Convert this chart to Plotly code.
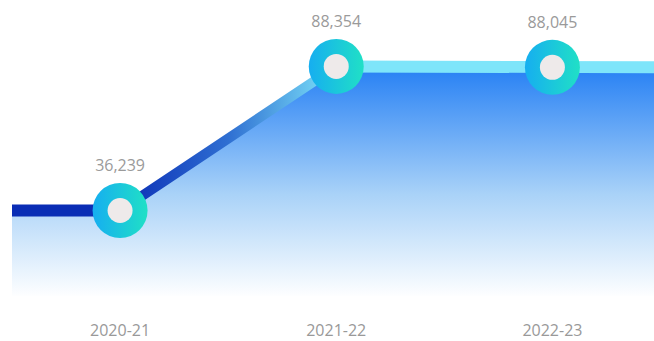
import plotly.graph_objects as go

# Fiscal years and their values
years = ["2020-21", "2021-22", "2022-23"]
values = [36239, 88354, 88045]

xs = list(range(len(years)))
# flat run-out half a category past the first and last points
x_ext = [xs[0] - 0.5] + xs + [xs[-1] + 0.5]
y_ext = [values[0]] + values + [values[-1]]

Y0, Y1 = 5300, 112400
PLOT_H = 298
LINE_PX = 12
half = LINE_PX / 2 * (Y1 - Y0) / PLOT_H

fig = go.Figure()

# area under the line, fading to white at the bottom
fig.add_trace(go.Scatter(
    x=x_ext, y=y_ext, mode="lines", line=dict(width=0),
    fill="tozeroy",
    fillgradient=dict(type="vertical", start=Y0, stop=values[1],
                      colorscale=[[0, "rgba(255,255,255,1)"], [0.45, "#a9d2f8"], [1, "#2680f4"]]),
    hoverinfo="skip", showlegend=False,
))

# thick line drawn as a band so it can carry a horizontal colour ramp
fig.add_trace(go.Scatter(
    x=x_ext, y=[v - half for v in y_ext], mode="lines", line=dict(width=0),
    hoverinfo="skip", showlegend=False,
))
fig.add_trace(go.Scatter(
    x=x_ext, y=[v + half for v in y_ext], mode="lines", line=dict(width=0),
    fill="tonexty",
    fillgradient=dict(type="horizontal", start=xs[0], stop=xs[1],
                      colorscale=[[0, "#0a2db5"], [0.5, "#2f6fd2"], [1, "#7ee5fa"]]),
    hoverinfo="skip", showlegend=False,
))

# outer ring markers with value labels (blue on the left, teal on the right)
fig.add_trace(go.Scatter(
    x=xs, y=values, mode="markers+text",
    text=[f"{v:,}" for v in values], textposition="top center",
    textfont=dict(family="Open Sans", size=16, color="#9a9a9a"),
    marker=dict(size=55, color="#16aef0", line=dict(width=0),
                gradient=dict(type="horizontal", color="#20e0c6")),
    cliponaxis=False, hoverinfo="skip", showlegend=False,
))
# inner light dot
fig.add_trace(go.Scatter(
    x=xs, y=values, mode="markers",
    marker=dict(size=25, color="#eeeaea", line=dict(width=0)),
    cliponaxis=False, hoverinfo="skip", showlegend=False,
))

fig.update_layout(
    width=654, height=341,
    margin=dict(l=12, r=0, t=0, b=341 - PLOT_H),
    paper_bgcolor="white", plot_bgcolor="white",
    xaxis=dict(range=[-0.5, 2.47], tickvals=xs, ticktext=years,
               showgrid=False, zeroline=False, showline=False, ticks="",
               ticklabelstandoff=23,
               tickfont=dict(family="Open Sans", size=16, color="#999999")),
    yaxis=dict(range=[Y0, Y1], visible=False, showgrid=False, zeroline=False),
)

fig.write_html("out.html")
